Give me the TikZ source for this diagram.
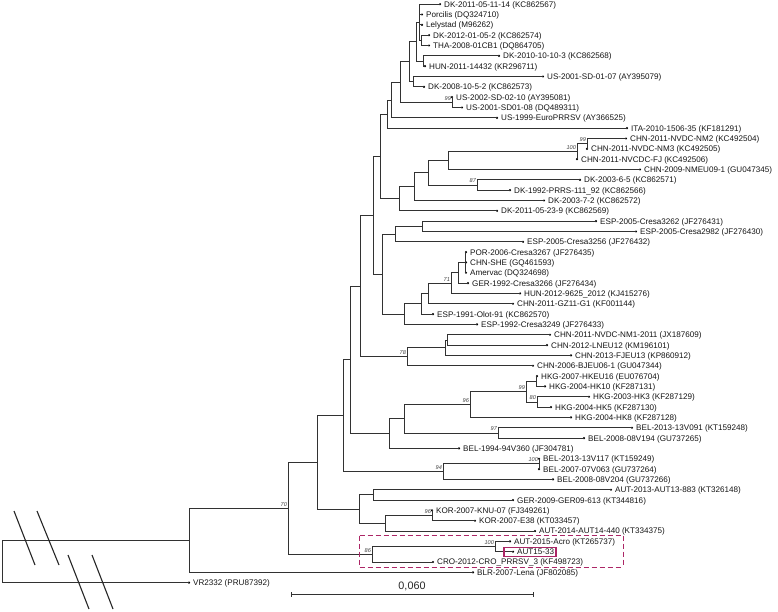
\documentclass[tikz,border=0pt]{standalone}
\usepackage{fontspec}
\setmainfont{Liberation Sans}
\usetikzlibrary{calc}
\definecolor{boxc}{RGB}{172,38,102}
\definecolor{brc}{RGB}{50,50,50}
\newcommand{\Yr}[1]{4.2+10.33*(#1)}
\newcommand{\tipleaf}[4]{%
  \coordinate (#1) at (#2,{\Yr{#3}});
  \fill[black] (#1) circle[radius=1.2pt];
  \node[lbl] (#1t) at (#1) {#4};}
\newcommand{\kids}[2]{\foreach \c in {#2} {\draw[br] (#1) |- (\c);}}
\newcommand{\bsl}[2]{\node[bs] (bs#1) at (#1) {#2};}
\begin{document}
\begin{tikzpicture}[x=1pt,y=-1pt,
  br/.style={draw=brc,line width=0.8pt},
  lbl/.style={anchor=base west,inner sep=0pt,xshift=4pt,yshift=-2.95pt,font=\fontsize{8.1}{9}\selectfont,text=black!92},
  bs/.style={anchor=south east,inner sep=0.4pt,yshift=1.5pt,xshift=-0.5pt,font=\fontsize{5.6}{6}\selectfont\itshape,text=black!75},
  slash/.style={draw=black!85,line width=1.1pt},
  hl/.style={draw=boxc,line width=1.2pt},
  dashseg/.style={draw=boxc,line width=1.6pt}]
\useasboundingbox (0,0) rectangle (778,611);

% leaves
\tipleaf{L0}{440}{0}{DK-2011-05-11-14 (KC862567)}
\tipleaf{L1}{422}{1}{Porcilis (DQ324710)}
\tipleaf{L2}{422}{2}{Lelystad (M96262)}
\tipleaf{L3}{429}{3}{DK-2012-01-05-2 (KC862574)}
\tipleaf{L4}{429}{4}{THA-2008-01CB1 (DQ864705)}
\tipleaf{L5}{499}{5}{DK-2010-10-10-3 (KC862568)}
\tipleaf{L6}{425}{6}{HUN-2011-14432 (KR296711)}
\tipleaf{L7}{543}{7}{US-2001-SD-01-07 (AY395079)}
\tipleaf{L8}{424}{8}{DK-2008-10-5-2 (KC862573)}
\tipleaf{L9}{452}{9}{US-2002-SD-02-10 (AY395081)}
\tipleaf{L10}{462}{10}{US-2001-SD01-08 (DQ489311)}
\tipleaf{L11}{497}{11}{US-1999-EuroPRRSV (AY366525)}
\tipleaf{L12}{627}{12}{ITA-2010-1506-35 (KF181291)}
\tipleaf{L13}{626}{13}{CHN-2011-NVDC-NM2 (KC492504)}
\tipleaf{L14}{587}{14}{CHN-2011-NVDC-NM3 (KC492505)}
\tipleaf{L15}{577}{15}{CHN-2011-NVCDC-FJ (KC492506)}
\tipleaf{L16}{640}{16}{CHN-2009-NMEU09-1 (GU047345)}
\tipleaf{L17}{580}{17}{DK-2003-6-5 (KC862571)}
\tipleaf{L18}{510}{18}{DK-1992-PRRS-111\_92 (KC862566)}
\tipleaf{L19}{544}{19}{DK-2003-7-2 (KC862572)}
\tipleaf{L20}{497}{20}{DK-2011-05-23-9 (KC862569)}
\tipleaf{L21}{596}{21}{ESP-2005-Cresa3262 (JF276431)}
\tipleaf{L22}{636}{22}{ESP-2005-Cresa2982 (JF276430)}
\tipleaf{L23}{523}{23}{ESP-2005-Cresa3256 (JF276432)}
\tipleaf{L24}{466}{24}{POR-2006-Cresa3267 (JF276435)}
\tipleaf{L25}{466}{25}{CHN-SHE (GQ461593)}
\tipleaf{L26}{466}{26}{Amervac (DQ324698)}
\tipleaf{L27}{468}{27}{GER-1992-Cresa3266 (JF276434)}
\tipleaf{L28}{520}{28}{HUN-2012-9625\_2012 (KJ415276)}
\tipleaf{L29}{513}{29}{CHN-2011-GZ11-G1 (KF001144)}
\tipleaf{L30}{433}{30}{ESP-1991-Olot-91 (KC862570)}
\tipleaf{L31}{477}{31}{ESP-1992-Cresa3249 (JF276433)}
\tipleaf{L32}{550}{32}{CHN-2011-NVDC-NM1-2011 (JX187609)}
\tipleaf{L33}{547}{33}{CHN-2012-LNEU12 (KM196101)}
\tipleaf{L34}{571}{34}{CHN-2013-FJEU13 (KP860912)}
\tipleaf{L35}{533}{35}{CHN-2006-BJEU06-1 (GU047344)}
\tipleaf{L36}{537}{36}{HKG-2007-HKEU16 (EU076704)}
\tipleaf{L37}{545}{37}{HKG-2004-HK10 (KF287131)}
\tipleaf{L38}{589}{38}{HKG-2003-HK3 (KF287129)}
\tipleaf{L39}{551}{39}{HKG-2004-HK5 (KF287130)}
\tipleaf{L40}{571}{40}{HKG-2004-HK8 (KF287128)}
\tipleaf{L41}{632}{41}{BEL-2013-13V091 (KT159248)}
\tipleaf{L42}{584}{42}{BEL-2008-08V194 (GU737265)}
\tipleaf{L43}{459}{43}{BEL-1994-94V360 (JF304781)}
\tipleaf{L44}{539}{44}{BEL-2013-13V117 (KT159249)}
\tipleaf{L45}{539}{45}{BEL-2007-07V063 (GU737264)}
\tipleaf{L46}{553}{46}{BEL-2008-08V204 (GU737266)}
\tipleaf{L47}{611}{47}{AUT-2013-AUT13-883 (KT326148)}
\tipleaf{L48}{513}{48}{GER-2009-GER09-613 (KT344816)}
\tipleaf{L49}{432}{49}{KOR-2007-KNU-07 (FJ349261)}
\tipleaf{L50}{475}{50}{KOR-2007-E38 (KT033457)}
\tipleaf{L51}{535}{51}{AUT-2014-AUT14-440 (KT334375)}
\tipleaf{L52}{510}{52}{AUT-2015-Acro (KT265737)}
\tipleaf{L53}{513}{53}{AUT15-33}
\tipleaf{L54}{433}{54}{CRO-2012-CRO\_PRRSV\_3 (KF498723)}
\tipleaf{L55}{473}{55}{BLR-2007-Lena (JF802085)}
\tipleaf{L56}{189}{56}{VR2332 (PRU87392)}

% internal nodes
\coordinate (B) at (421,{\Yr{3.5}});
\coordinate (A) at (419,{\Yr{1.75}});
\coordinate (C) at (423,{\Yr{5.5}});
\coordinate (D) at (416,{\Yr{3.625}});
\coordinate (F) at (413,{\Yr{7.5}});
\coordinate (G) at (409,{\Yr{5.5625}});
\coordinate (Nus) at (452,{\Yr{9.5}});
\coordinate (H) at (400,{\Yr{7.53}});
\coordinate (I) at (391,{\Yr{9.27}});
\coordinate (J) at (387,{\Yr{10.63}});
\coordinate (Ncn99) at (587,{\Yr{13.5}});
\coordinate (Ncn100) at (577,{\Yr{14.25}});
\coordinate (P) at (448,{\Yr{15.125}});
\coordinate (Ndk87) at (477,{\Yr{17.5}});
\coordinate (Q1) at (428,{\Yr{16.31}});
\coordinate (Q2) at (414,{\Yr{17.66}});
\coordinate (Q3) at (399,{\Yr{18.83}});
\coordinate (K) at (380,{\Yr{14.73}});
\coordinate (Nes) at (422,{\Yr{21.5}});
\coordinate (M) at (395,{\Yr{22.25}});
\coordinate (Qn) at (465,{\Yr{25}});
\coordinate (R) at (458,{\Yr{26}});
\coordinate (N71) at (451,{\Yr{27}});
\coordinate (S) at (428,{\Yr{28}});
\coordinate (T) at (421,{\Yr{29}});
\coordinate (U) at (404,{\Yr{30}});
\coordinate (V) at (382,{\Yr{26.125}});
\coordinate (Lc) at (373,{\Yr{20.43}});
\coordinate (X) at (447,{\Yr{32.5}});
\coordinate (W) at (445,{\Yr{33.25}});
\coordinate (N78) at (407,{\Yr{34.125}});
\coordinate (N360) at (360,{\Yr{27.28}});
\coordinate (X1) at (536,{\Yr{36.5}});
\coordinate (N80) at (537,{\Yr{38.5}});
\coordinate (N99h) at (526,{\Yr{37.5}});
\coordinate (N96) at (470,{\Yr{38.75}});
\coordinate (N97) at (498,{\Yr{41.5}});
\coordinate (Yn) at (404,{\Yr{40.125}});
\coordinate (Zn) at (389,{\Yr{41.5625}});
\coordinate (N350) at (350,{\Yr{34.42}});
\coordinate (N100b) at (539,{\Yr{44.5}});
\coordinate (N94) at (443,{\Yr{45.25}});
\coordinate (N343) at (343,{\Yr{39.83}});
\coordinate (N372) at (373,{\Yr{47.5}});
\coordinate (N96k) at (432,{\Yr{49.5}});
\coordinate (N385) at (385,{\Yr{50.25}});
\coordinate (N359) at (359,{\Yr{48.875}});
\coordinate (N317) at (317,{\Yr{44.35}});
\coordinate (N100a) at (495,{\Yr{52.5}});
\coordinate (N86) at (372,{\Yr{53.25}});
\coordinate (N70) at (288,{\Yr{48.8}});
\coordinate (IG) at (189,{\Yr{51.9}});
\coordinate (root) at (2,{\Yr{54}});

% branches
\kids{A}{L0,L1,L2,B}
\kids{B}{L3,L4}
\kids{C}{L5,L6}
\kids{D}{A,C}
\kids{F}{L7,L8}
\kids{G}{D,F}
\kids{Nus}{L9,L10}
\kids{H}{G,Nus}
\kids{I}{H,L11}
\kids{J}{I,L12}
\kids{Ncn99}{L13,L14}
\kids{Ncn100}{Ncn99,L15}
\kids{P}{Ncn100,L16}
\kids{Ndk87}{L17,L18}
\kids{Q1}{P,Ndk87}
\kids{Q2}{Q1,L19}
\kids{Q3}{Q2,L20}
\kids{K}{J,Q3}
\kids{Nes}{L21,L22}
\kids{M}{Nes,L23}
\kids{Qn}{L24,L25,L26}
\kids{R}{Qn,L27}
\kids{N71}{R,L28}
\kids{S}{N71,L29}
\kids{T}{S,L30}
\kids{U}{T,L31}
\kids{V}{M,U}
\kids{Lc}{K,V}
\kids{X}{L32,L33}
\kids{W}{X,L34}
\kids{N78}{W,L35}
\kids{N360}{Lc,N78}
\kids{X1}{L36,L37}
\kids{N80}{L38,L39}
\kids{N99h}{X1,N80}
\kids{N96}{N99h,L40}
\kids{N97}{L41,L42}
\kids{Yn}{N96,N97}
\kids{Zn}{Yn,L43}
\kids{N350}{N360,Zn}
\kids{N100b}{L44,L45}
\kids{N94}{N100b,L46}
\kids{N343}{N350,N94}
\kids{N372}{L47,L48}
\kids{N96k}{L49,L50}
\kids{N385}{N96k,L51}
\kids{N359}{N372,N385}
\kids{N317}{N343,N359}
\kids{N100a}{L52,L53}
\kids{N86}{N100a,L54}
\kids{N70}{N317,N86}
\kids{IG}{N70,L55}
\kids{root}{IG,L56}

% bootstrap values
\bsl{Nus}{99}
\bsl{Ncn100}{100}
\bsl{Ncn99}{99}
\bsl{Ndk87}{87}
\bsl{N71}{71}
\bsl{N78}{78}
\bsl{N96}{96}
\bsl{N99h}{99}
\bsl{N80}{80}
\bsl{N97}{97}
\bsl{N100b}{100}
\bsl{N94}{94}
\bsl{N96k}{96}
\bsl{N100a}{100}
\bsl{N86}{86}
\bsl{N70}{70}

% highlight box round AUT15-33
\coordinate (hb1) at (504,547.2);
\coordinate (hb2) at (556,556.8);
\draw[hl] (hb1) rectangle (hb2);

% dashed box, drawn as explicit dashes
\foreach \i in {0,...,32} {
  \draw[dashseg] ({359.5+8*\i},535.5) -- ({min(359.5+8*\i+5.5,623.5)},535.5);
  \draw[dashseg] ({359.5+8*\i},567.5) -- ({min(359.5+8*\i+5.5,623.5)},567.5);
}
\foreach \i in {0,...,3} {
  \draw[dashseg] (359.5,{535.5+8*\i}) -- (359.5,{min(535.5+8*\i+5.5,567.5)});
  \draw[dashseg] (623.5,{535.5+8*\i}) -- (623.5,{min(535.5+8*\i+5.5,567.5)});
}

% break marks
\coordinate (s1a) at (14,511); \coordinate (s1b) at (35,565);
\coordinate (s2a) at (37,511); \coordinate (s2b) at (59,565);
\coordinate (s3a) at (68,555); \coordinate (s3b) at (89,609);
\coordinate (s4a) at (92,555); \coordinate (s4b) at (113,609);
\draw[slash] (s1a) -- (s1b);
\draw[slash] (s2a) -- (s2b);
\draw[slash] (s3a) -- (s3b);
\draw[slash] (s4a) -- (s4b);

% scale bar
\coordinate (sc1) at (291,594.5);
\coordinate (sc2) at (533,594.5);
\draw[br] (sc1) -- (sc2);
\draw[br] ($(sc1)+(0,-2.5)$) -- ($(sc1)+(0,2.5)$);
\draw[br] ($(sc2)+(0,-2.5)$) -- ($(sc2)+(0,2.5)$);
\node[anchor=south,inner sep=0pt,yshift=3.5pt,font=\fontsize{10.8}{12}\selectfont,text=black!85] (sclbl) at ($(sc1)!0.5!(sc2)$) {0,060};
\end{tikzpicture}
\end{document}
